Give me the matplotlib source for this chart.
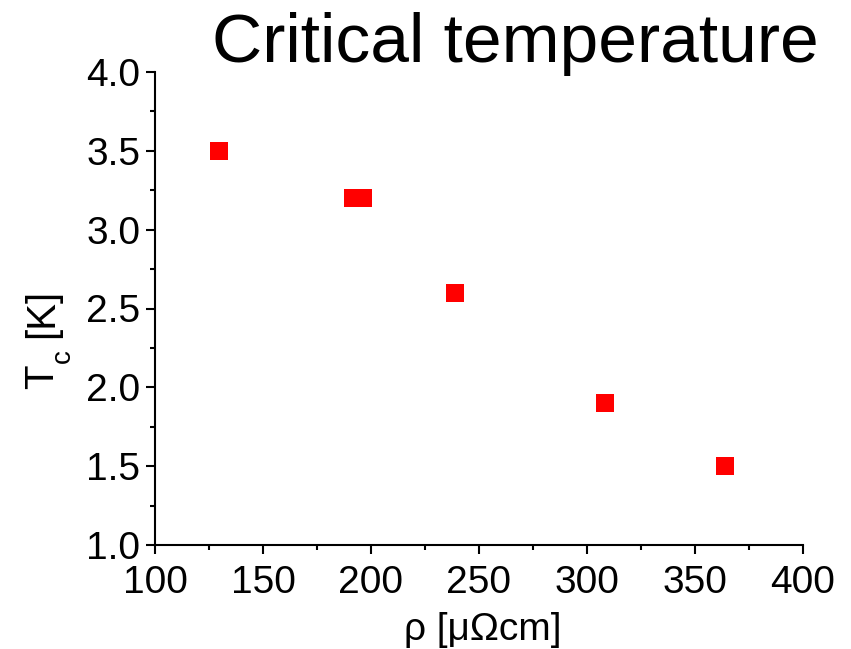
import matplotlib
matplotlib.use("Agg")
import matplotlib.pyplot as plt
from matplotlib.ticker import MultipleLocator, FormatStrFormatter

plt.rcParams['font.family'] = ['Liberation Sans', 'DejaVu Sans']

rho = [129.5, 191.7, 196.5, 239, 308.5, 364]
tc = [3.5, 3.2, 3.2, 2.6, 1.9, 1.5]
title = "Critical temperature"
xlabel = "ρ [μΩcm]"
ylabel_main = "T"
ylabel_sub = "c"
ylabel_unit = "[K]"

W, H = 851, 649
fig = plt.figure(figsize=(W/100, H/100), dpi=100)
ax = fig.add_axes([155/W, 1-545/H, (803-155)/W, (545-72)/H])
ax.scatter(rho, tc, marker='s', s=165, color='#ff0000', edgecolors='none', zorder=3)

ax.set_xlim(100, 400)
ax.set_ylim(1.0, 4.0)
ax.xaxis.set_major_locator(MultipleLocator(50))
ax.xaxis.set_minor_locator(MultipleLocator(25))
ax.yaxis.set_major_locator(MultipleLocator(0.5))
ax.yaxis.set_minor_locator(MultipleLocator(0.25))
ax.yaxis.set_major_formatter(FormatStrFormatter('%.1f'))

for s in ['top', 'right']:
    ax.spines[s].set_visible(False)
for s in ['left', 'bottom']:
    ax.spines[s].set_linewidth(1.5)
    ax.spines[s].set_color('black')

ax.tick_params(which='major', direction='out', length=6.5, width=1.5, labelsize=28)
ax.tick_params(which='minor', direction='out', length=3.5, width=1.5)
ax.tick_params(axis='x', which='major', pad=8)
ax.tick_params(axis='y', which='major', pad=4)

fig.text(483/W, 1-640/H, xlabel, fontsize=28, ha='center', va='baseline')

kw = dict(rotation=90, rotation_mode='anchor', ha='left', va='baseline')
fig.text(53/W, 1-389/H, ylabel_main, fontsize=29, **kw)
fig.text(69.5/W, 1-363/H, ylabel_sub, fontsize=20, **kw)
fig.text(53/W, 1-338/H, ylabel_unit, fontsize=29, **kw)

fig.text(515/W, 1-62/H, title, fontsize=50, ha='center', va='baseline')

fig.savefig("out.png", dpi=100)
